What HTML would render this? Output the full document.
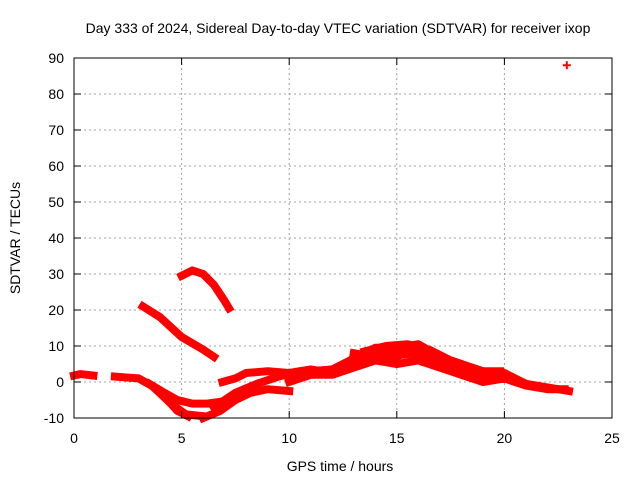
<!DOCTYPE html>
<html><head><meta charset="utf-8"><style>
body{margin:0;background:#fff}
svg text{font-family:"Liberation Sans",sans-serif;font-size:14px;fill:#000}
</style></head><body>
<svg width="640" height="480" id="c">
<text x="338" y="33" text-anchor="middle">Day 333 of 2024, Sidereal Day-to-day VTEC variation (SDTVAR) for receiver ixop</text>
<text x="340" y="471" text-anchor="middle">GPS time / hours</text>
<text x="0" y="0" transform="translate(20,238) rotate(-90)" text-anchor="middle">SDTVAR / TECUs</text>
<g id="grid"></g><g id="marks"></g>
<rect x="74" y="58" width="538" height="360" fill="none" stroke="#000"/>
<g id="ticks"></g>
</svg>
<script>
const xTicks=[0,5,10,15,20,25];
const yTicks=[-10,0,10,20,30,40,50,60,70,80,90];
const s1=[[0,1.8],[0.3,2.2],[0.9,1.8]];
const s2=[[1.9,1.5],[3,1],[3.6,-1],[4.2,-4],[4.8,-8],[5.3,-9.5]];
const s3=[[3.5,-0.5],[4.2,-3],[4.8,-5],[5.5,-6],[6.2,-6],[6.8,-5.5]];
const s4=[[3.8,-2],[4.5,-6],[5.2,-9],[6,-9.5]];
const s5=[[6,-10],[6.8,-8],[7.5,-5],[8.2,-3],[9,-2],[10,-2.5]];
const s6=[[6.9,0],[7.5,1],[8,2.5],[9,3],[10,2.5],[11,3.5],[12,2.5]];
const s7=[[6.5,-7],[7.5,-3],[8.5,-0.5],[9.5,1.5],[10.5,3],[11.5,2.5]];
const s8=[[10,1],[11,3],[12,3.5],[13,6.5],[14,9.5],[15,9.5],[16,10.5],[17,7],[18,5],[19,2.5],[20,2.5],[21,-0.5],[22,-1.5],[23,-2.5]];
const s9=[[10,0],[11,2],[12,2],[13,4],[14,6],[15,5],[16,6],[17,4],[18,2],[19,0],[20,1],[21,-1],[22,-2],[22.8,-2]];
const s10=[[13,8],[14,7],[15,7],[16,10],[17,6],[18,3]];
const s13=[[12,3],[13,5],[14,8],[15,7.5],[16,8],[17,5.5],[18,3.5],[19,1],[20,2],[21,-0.5]];
const s14=[[13.5,8.5],[14.5,10],[15.5,10.5],[16.5,9],[17.5,6],[19,3],[19.8,3]];
const s11=[[5,29.5],[5.5,31],[6,30],[6.5,27],[7,22.5],[7.2,20.5]];
const s12=[[3.2,21],[4,18],[5,12.5],[6,9],[6.5,7]];
const outlier=[[22.9,88]];
const series=[s1,s2,s3,s4,s5,s6,s7,s8,s9,s10,s13,s14,s11,s12];
const X=v=>74+v*538/25, Y=v=>58+(90-v)*3.6;
const ns="http://www.w3.org/2000/svg";
function mk(t,a,p){const e=document.createElementNS(ns,t);for(const k in a)e.setAttribute(k,a[k]);p.appendChild(e);return e;}
const g=document.getElementById('grid'),tk=document.getElementById('ticks'),m=document.getElementById('marks');
xTicks.forEach(t=>{
 if(t>0&&t<25){const l=mk('line',{x1:X(t),x2:X(t),y1:58,y2:418,stroke:'#a0a0a0','stroke-dasharray':'2,3'},g);
 
 }
 mk('line',{x1:X(t),x2:X(t),y1:418,y2:411,stroke:'#000'},tk);mk('line',{x1:X(t),x2:X(t),y1:58,y2:65,stroke:'#000'},tk);
 const tx=mk('text',{x:X(t),y:443,'text-anchor':'middle'},tk);tx.textContent=t;
 
 
});
yTicks.forEach(t=>{
 if(t>-10&&t<90){const l=mk('line',{x1:74,x2:612,y1:Y(t),y2:Y(t),stroke:'#a0a0a0','stroke-dasharray':'2,3'},g);
 
 }
 mk('line',{x1:74,x2:81,y1:Y(t),y2:Y(t),stroke:'#000'},tk);mk('line',{x1:605,x2:612,y1:Y(t),y2:Y(t),stroke:'#000'},tk);
 const tx=mk('text',{x:64,y:Y(t)+5,'text-anchor':'end'},tk);tx.textContent=t;
 
 
});
series.forEach((s,i)=>{
 const p=mk('polyline',{points:s.map(d=>X(d[0])+','+Y(d[1])).join(' '),fill:'none',stroke:'#f00','stroke-width':8,'stroke-linejoin':'round','stroke-linecap':'square'},m);
 
 
});
outlier.forEach(d=>{
 const p=mk('path',{d:`M${X(d[0])-4},${Y(d[1])}h8M${X(d[0])},${Y(d[1])-4}v8`,stroke:'#f00','stroke-width':2},m);
 
 
});
</script>
</body></html>
